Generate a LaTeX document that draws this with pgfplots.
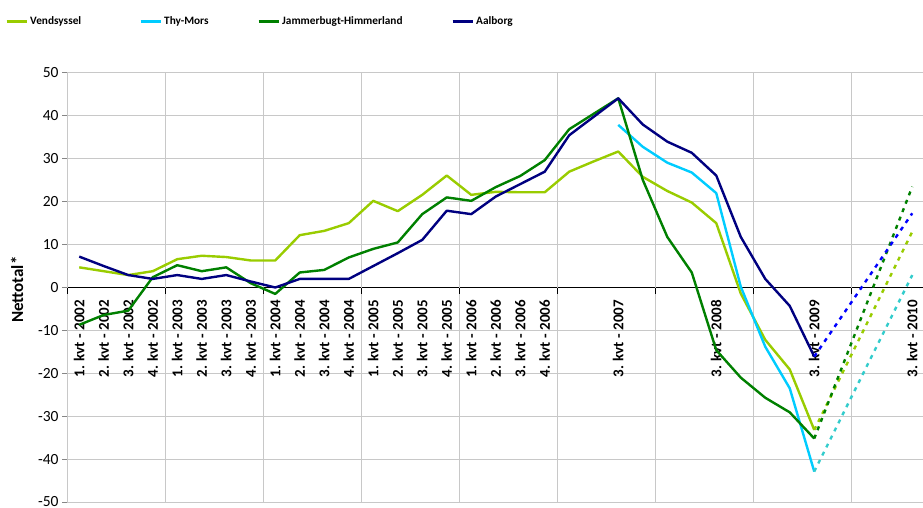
\documentclass[border=0pt]{standalone}
\usepackage{pgfplots}
\pgfplotsset{compat=1.18}
\usepackage{fontspec}
\setmainfont{Carlito}
\definecolor{vend}{HTML}{99CC00}
\definecolor{thy}{HTML}{00CCFF}
\definecolor{jam}{HTML}{008000}
\definecolor{aal}{HTML}{000080}
\definecolor{aalf}{HTML}{0000FF}
\definecolor{thyf}{HTML}{33CCCC}
\definecolor{gridc}{HTML}{C8C8C8}
\definecolor{axc}{HTML}{868686}
\newcommand\xl[1]{{\fontsize{15}{18}\selectfont\bfseries #1}}
\newcommand\lgd[1]{{\fontsize{11.3}{13}\selectfont\bfseries #1}}

\pgfplotstableread{
i v
0 4.7
1 3.8
2 2.9
3 3.8
4 6.6
5 7.4
6 7.1
7 6.3
8 6.3
9 12.2
10 13.2
11 15.0
12 20.2
13 17.8
14 21.6
15 26.1
16 21.6
17 22.3
18 22.2
19 22.2
20 27.0
21 29.4
22 31.7
23 25.8
24 22.5
25 19.8
26 15.0
27 -1.4
28 -12.2
29 -19.1
30 -33.2
}\vendsyssel

\pgfplotstableread{
i v
22 37.9
23 32.8
24 29.1
25 26.8
26 22.0
27 0.2
28 -13.8
29 -23.5
30 -42.9
}\thymors

\pgfplotstableread{
i v
0 -8.7
1 -6.4
2 -5.4
3 2.4
4 5.2
5 3.8
6 4.7
7 1.0
8 -1.5
9 3.5
10 4.1
11 7.0
12 9.0
13 10.5
14 17.1
15 21.0
16 20.2
17 23.4
18 26.0
19 29.7
20 36.9
21 40.5
22 44.1
23 25.1
24 11.8
25 3.5
26 -14.6
27 -21.0
28 -25.7
29 -29.1
30 -35.2
}\jammer

\pgfplotstableread{
i v
0 7.2
1 5.0
2 2.9
3 2.0
4 2.9
5 2.0
6 2.9
7 1.4
8 0.0
9 2.0
10 2.0
11 2.0
12 5.0
13 8.0
14 11.1
15 17.9
16 17.1
17 21.2
18 24.1
19 27.0
20 35.5
21 39.8
22 44.1
23 38.0
24 34.0
25 31.4
26 26.1
27 11.8
28 2.0
29 -4.3
30 -16.1
}\aalborg

\begin{document}
\begin{tikzpicture}
\begin{axis}[
  at={(67pt,-502pt)}, anchor=south west,
  scale only axis, width=882pt, height=429pt,
  xmin=-0.5, xmax=35.5, ymin=-50, ymax=50,
  axis x line*=middle, axis y line*=left,
  x axis line style={black, line width=1.3pt, -},
  y axis line style={axc, line width=1pt, -},
  xtick={0,...,34},
  xticklabels={\xl{1. kvt - 2002},\xl{2. kvt - 2002},\xl{3. kvt - 2002},\xl{4. kvt - 2002},
    \xl{1. kvt - 2003},\xl{2. kvt - 2003},\xl{3. kvt - 2003},\xl{4. kvt - 2003},
    \xl{1. kvt - 2004},\xl{2. kvt - 2004},\xl{3. kvt - 2004},\xl{4. kvt - 2004},
    \xl{1. kvt - 2005},\xl{2. kvt - 2005},\xl{3. kvt - 2005},\xl{4. kvt - 2005},
    \xl{1. kvt - 2006},\xl{2. kvt - 2006},\xl{3. kvt - 2006},\xl{4. kvt - 2006},
    {},{},\xl{3. kvt - 2007},{},
    {},{},\xl{3. kvt - 2008},{},
    {},{},\xl{3. kvt - 2009},{},
    {},{},\xl{3. kvt - 2010}},
  x tick style={draw=none},
  extra x ticks={-0.5,3.5,7.5,11.5,15.5,19.5,23.5,27.5,31.5},
  extra x tick labels={},
  extra x tick style={xmajorgrids=true, x tick style={draw=black, line width=1pt}, xtick align=outside, major tick length=6pt},
  ytick={-50,-40,...,50},
  ymajorgrids,
  major grid style={gridc, line width=1pt},
  y tick style={axc, line width=1pt},
  ytick align=outside,
  major tick length=5pt,
  /pgf/number format/assume math mode=true,
  yticklabel style={font=\fontsize{15.5}{18}\selectfont},
  xticklabel style={yshift=-9pt, rotate=90, anchor=east},
  ylabel={\rotatebox{90}{\fontsize{17}{20}\selectfont\bfseries Nettotal*}},
  ylabel style={rotate=-90, at={(axis description cs:-0.0567,0.495)}, anchor=center, inner sep=0pt},
  legend columns=4,
  legend style={at={(axis description cs:-0.0703,1.1212)}, anchor=west, draw=none, fill=none, inner sep=0pt,
    nodes={inner sep=2pt},
    /tikz/every even column/.style={column sep=0pt}},
  every axis plot/.append style={line width=2.4pt, line join=round},
]
\addplot[vend, no marks, legend image code/.code={\draw[vend, line width=3pt] (0pt,0pt) -- (20pt,0pt);}] table[x=i, y=v] {\vendsyssel};
\addlegendentry{\makebox[107pt][l]{\lgd{Vendsyssel}}}
\addplot[thy, no marks, legend image code/.code={\draw[thy, line width=3pt] (0pt,0pt) -- (20pt,0pt);}] table[x=i, y=v] {\thymors};
\addlegendentry{\makebox[91pt][l]{\lgd{Thy-Mors}}}
\addplot[jam, no marks, legend image code/.code={\draw[jam, line width=3pt] (0pt,0pt) -- (20pt,0pt);}] table[x=i, y=v] {\jammer};
\addlegendentry{\makebox[167pt][l]{\lgd{Jammerbugt-Himmerland}}}
\addplot[aal, no marks, legend image code/.code={\draw[aal, line width=3pt] (0pt,0pt) -- (20pt,0pt);}] table[x=i, y=v] {\aalborg};
\addlegendentry{\lgd{Aalborg}}
\addplot[vend, no marks, dash pattern=on 4pt off 5pt, forget plot] coordinates {(30,-33.2) (34,13.0)};
\addplot[thyf, no marks, dash pattern=on 4pt off 5pt, forget plot] coordinates {(30,-42.9) (34,2.9)};
\addplot[jam, no marks, dash pattern=on 4pt off 5pt, forget plot] coordinates {(30,-35.2) (34,23.5)};
\addplot[aalf, no marks, dash pattern=on 4pt off 5pt, forget plot] coordinates {(30,-16.1) (34,17.3)};
\end{axis}
\pgfresetboundingbox
\useasboundingbox (0pt,0pt) rectangle (923pt,-508pt);
\end{tikzpicture}
\end{document}
